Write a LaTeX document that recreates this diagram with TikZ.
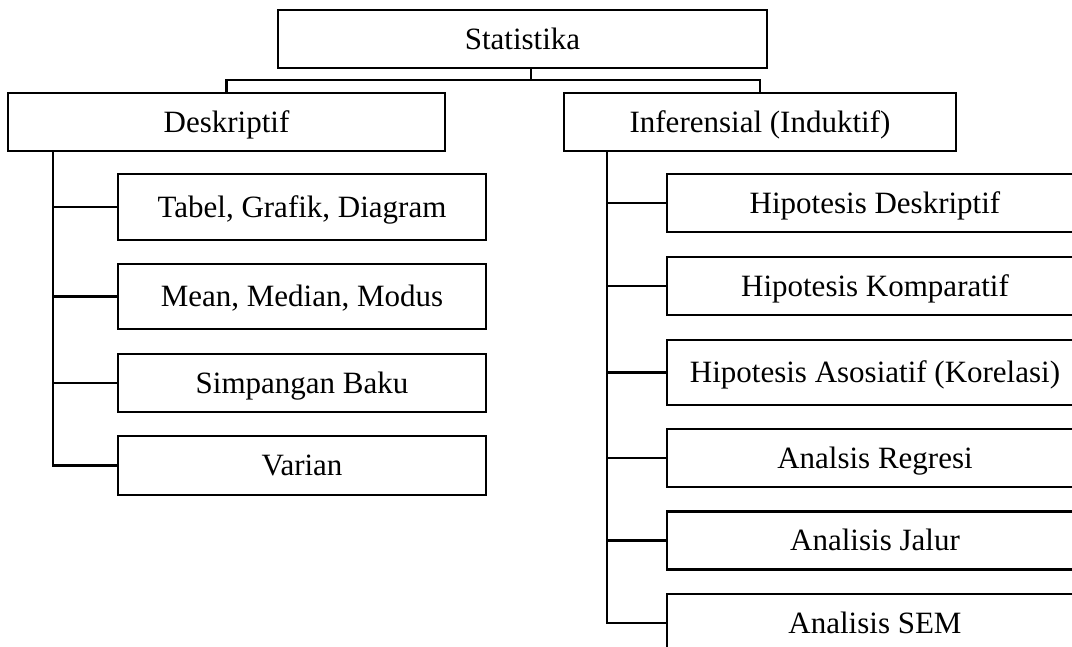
\documentclass[tikz,border=0pt]{standalone}
\usepackage{fontspec}
\setmainfont{Liberation Serif}
\begin{document}
\begin{tikzpicture}[x=1pt,y=-1pt,
  box/.style={draw,line width=2.6pt,inner sep=0pt,anchor=center,text height=20.5pt,text depth=0pt,font=\fontsize{31}{34}\selectfont},
  conn/.style={line width=2.6pt}]
\useasboundingbox (0,0) rectangle (1072,646);
\clip (0,0) rectangle (1072,646);
\node[box,minimum width=489pt,minimum height=58pt] (st) at (522.5,39) {Statistika};
\node[box,minimum width=437pt,minimum height=58pt] (dk) at (226.5,122) {Deskriptif};
\node[box,minimum width=392pt,minimum height=58pt] (inf) at (760,122) {Inferensial (Induktif)};
% left children
\node[box,minimum width=368pt,minimum height=66pt] (l1) at (302,207) {Tabel, Grafik, Diagram};
\node[box,minimum width=368pt,minimum height=65pt] (l2) at (302,296.5) {Mean, Median, Modus};
\node[box,minimum width=368pt,minimum height=58pt] (l3) at (302,383) {Simpangan Baku};
\node[box,minimum width=368pt,minimum height=59pt] (l4) at (302,465.5) {Varian};
% right children
\node[box,minimum width=416pt,minimum height=58pt] (r1) at (875,203) {Hipotesis Deskriptif};
\node[box,minimum width=416pt,minimum height=58pt] (r2) at (875,286) {Hipotesis Komparatif};
\node[box,minimum width=416pt,minimum height=65pt] (r3) at (875,372.5) {Hipotesis Asosiatif (Korelasi)};
\node[box,minimum width=416pt,minimum height=58pt] (r4) at (875,458) {Analsis Regresi};
\node[box,minimum width=416pt,minimum height=58pt] (r5) at (875,540.5) {Analisis Jalur};
\node[box,minimum width=416pt,minimum height=58pt] (r6) at (875,623) {Analisis SEM};
% top connectors
\coordinate (sb) at (531,68);
\coordinate (bar) at (531,80);
\draw[conn] (sb) -- (bar);
\draw[conn] (dk.north) |- (bar) -| (inf.north);
% left spine
\coordinate (ls) at (53,151);
\draw[conn] (ls) |- (l4.west);
\foreach \n in {l1,l2,l3}{\draw[conn] (ls |- \n.west) -- (\n.west);}
% right spine
\coordinate (rs) at (607,151);
\draw[conn] (rs) |- (r6.west);
\foreach \n in {r1,r2,r3,r4,r5}{\draw[conn] (rs |- \n.west) -- (\n.west);}
\end{tikzpicture}
\end{document}
